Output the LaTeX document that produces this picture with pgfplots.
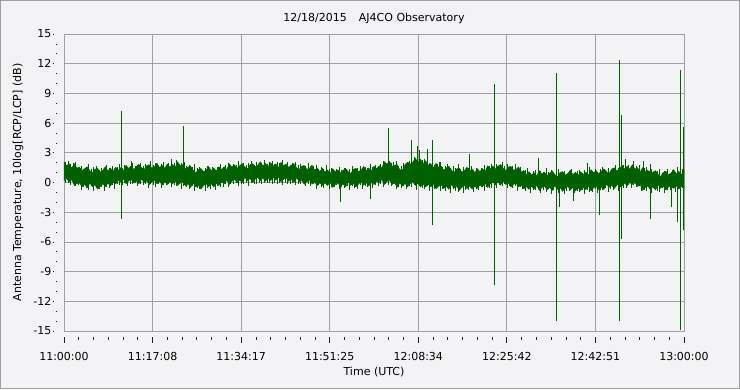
\documentclass[border=0pt]{standalone}
\usepackage{pgfplots}
\pgfplotsset{compat=1.18}
\usepackage{fontspec}
\setmainfont{DejaVu Sans}
\definecolor{bgc}{RGB}{243,243,245}
\definecolor{gridc}{RGB}{160,160,160}
\definecolor{sig}{RGB}{0,96,0}
\definecolor{tickc}{RGB}{20,30,70}
\begin{document}
\begin{tikzpicture}
\fill[bgc] (-64pt,-58pt) rectangle (676pt,331pt);
\draw[gray!75, line width=1.2pt] (-63.4pt,-57.4pt) rectangle (675.4pt,330.4pt);
\useasboundingbox (-64pt,-58pt) rectangle (676pt,331pt);
\begin{axis}[
  scale only axis, width=620pt, height=297pt,
  xmin=0, xmax=120, ymin=-15, ymax=15,
  xtick={0,17.142857,34.285714,51.428571,68.571429,85.714286,102.857143,120},
  xticklabels={11:00:00,11:17:08,11:34:17,11:51:25,12:08:34,12:25:42,12:42:51,13:00:00},
  minor x tick num=5,
  ytick={-15,-12,-9,-6,-3,0,3,6,9,12,15},
  minor y tick num=2,
  tick pos=left,
  grid=major,
  major grid style={gridc, line width=0.8pt},
  axis line style={gridc, line width=0.8pt},
  tick align=outside,
  major tick length=6pt, minor tick length=3pt,
  x tick style={tickc, line width=0.8pt, yshift=-5.5pt},
  y tick style={tickc, line width=0.8pt, xshift=-5pt, dash pattern=on 1.5pt off 12pt},
  font=\fontsize{11}{13}\selectfont,
  /pgf/number format/assume math mode=true,
  xticklabel style={anchor=base, yshift=-23pt},
  yticklabel style={anchor=east, xshift=-3pt},
  title={12/18/2015\hspace{1.1em}AJ4CO Observatory},
  title style={at={(axis description cs:0.5,1)}, anchor=center, yshift=10pt},
  xlabel={Time (UTC)},
  xlabel style={at={(axis description cs:0.5,-0.138)}, anchor=center},
  ylabel={Antenna Temperature, 10log[RCP/LCP] (dB)},
  ylabel style={at={(axis description cs:-0.074,0.5)}, anchor=center},
  spk/.style={draw=sig, line width=1pt},
]
\addplot[draw=sig, fill=sig, line width=0.4pt] coordinates {
(0,2.1)(0.5,1.7)(1,1.9)(1.5,1.45)(2,1.9)(2.5,1.45)(3,1.55)(3.5,1.2)(4,1.4)(4.5,1.58)(5,1.2)(5.5,1.0)(6,1.35)(6.5,1.43)(7,1.05)(7.5,1.22)(8,1.6)(8.5,1.17)(9,1.45)(9.5,1.12)(10,1.55)(10.5,1.23)(11,1.5)(11.5,1.17)(12,1.75)(12.5,1.42)(13,1.65)(13.5,1.32)(14,1.6)(14.5,1.83)(15,1.5)(15.5,1.3)(16,1.7)(16.5,1.8)(17,1.45)(17.5,1.6)(18,1.95)(18.5,1.5)(19,1.75)(19.5,1.43)(20,1.87)(20.5,1.55)(21,1.83)(21.5,1.52)(22,2.1)(22.5,1.67)(23,1.8)(23.5,1.37)(24,1.55)(24.5,1.67)(25,1.25)(25.5,0.97)(26,1.3)(26.5,1.42)(27,1.08)(27.5,1.25)(28,1.62)(28.5,1.18)(29,1.45)(29.5,1.15)(30,1.6)(30.5,1.3)(31,1.6)(31.5,1.3)(32,1.9)(32.5,1.56)(33,1.78)(33.5,1.44)(34,1.7)(34.5,1.91)(35,1.58)(35.5,1.39)(36,1.8)(36.5,1.91)(37,1.58)(37.5,1.74)(38,2.1)(38.5,1.66)(39,1.93)(39.5,1.59)(40,2.0)(40.5,1.65)(41,1.88)(41.5,1.52)(42,2.05)(42.5,1.69)(43,1.88)(43.5,1.51)(44,1.75)(44.5,1.91)(45,1.53)(45.5,1.29)(46,1.65)(46.5,1.71)(47,1.33)(47.5,1.44)(48,1.75)(48.5,1.26)(49,1.48)(49.5,1.09)(50,1.45)(50.5,1.06)(51,1.28)(51.5,0.89)(52,1.4)(52.5,1.07)(53,1.28)(53.5,0.95)(54,1.22)(54.5,1.43)(55,1.1)(55.5,0.91)(56,1.33)(56.5,1.44)(57,1.1)(57.5,1.26)(58,1.63)(58.5,1.19)(59,1.45)(59.5,1.18)(60,1.65)(60.5,1.38)(61,1.7)(61.5,1.45)(62,2.1)(62.5,1.85)(63,2.15)(63.5,1.65)(64,1.75)(64.5,1.8)(65,1.3)(65.5,1.25)(66,1.8)(66.5,2.05)(67,1.85)(67.5,2.05)(68,2.45)(68.5,2.05)(69,2.35)(69.5,1.9)(70,2.2)(70.5,1.75)(71,1.9)(71.5,1.48)(72,1.95)(72.5,1.53)(73,1.65)(73.5,1.26)(74,1.48)(74.5,1.64)(75,1.25)(75.5,1.01)(76,1.38)(76.5,1.44)(77,1.05)(77.5,1.2)(78,1.55)(78.5,1.1)(79,1.35)(79.5,1.0)(80,1.4)(80.5,1.1)(81,1.4)(81.5,1.1)(82,1.7)(82.5,1.4)(83,1.65)(83.5,1.35)(84,1.65)(84.5,1.82)(85,1.43)(85.5,1.2)(86,1.57)(86.5,1.63)(87,1.25)(87.5,1.32)(88,1.58)(88.5,1.05)(89,1.22)(89.5,0.78)(90,1.1)(90.5,0.75)(91,1.0)(91.5,0.65)(92,1.2)(92.5,0.85)(93,1.05)(93.5,0.7)(94,0.95)(94.5,1.15)(95,0.8)(95.5,0.6)(96,1.0)(96.5,1.1)(97,0.75)(97.5,0.9)(98,1.25)(98.5,0.8)(99,1.05)(99.5,0.7)(100,1.1)(100.5,0.78)(101,1.05)(101.5,0.73)(102,1.3)(102.5,0.98)(103,1.2)(103.5,0.88)(104,1.15)(104.5,1.39)(105,1.08)(105.5,0.91)(106,1.35)(106.5,1.49)(107,1.18)(107.5,1.36)(108,1.75)(108.5,1.35)(109,1.65)(109.5,1.35)(110,1.8)(110.5,1.35)(111,1.5)(111.5,1.05)(112,1.5)(112.5,1.1)(113,1.25)(113.5,0.85)(114,1.05)(114.5,1.2)(115,0.8)(115.5,0.61)(116,1.02)(116.5,1.13)(117,0.79)(117.5,0.95)(118,1.31)(118.5,0.87)(119,1.13)(119.5,0.79)(120,1.2)
(120,-0.6)(119.5,-0.36)(119,-0.67)(118.5,-0.33)(118,-0.59)(117.5,-0.25)(117,-0.46)(116.5,-0.77)(116,-0.38)(115.5,-0.59)(115,-0.25)(114.5,-0.75)(114,-0.45)(113.5,-0.7)(113,-0.35)(112.5,-0.5)(112,-0.8)(111.5,-0.18)(111,-0.4)(110.5,-0.03)(110,-0.2)(109.5,0.0)(109,-0.35)(108.5,-0.05)(108,-0.35)(107.5,-0.04)(107,-0.28)(106.5,-0.61)(106,-0.25)(105.5,-0.49)(105,-0.18)(104.5,-0.71)(104,-0.45)(103.5,-0.71)(103,-0.38)(102.5,-0.54)(102,-0.85)(101.5,-0.36)(101,-0.73)(100.5,-0.49)(100,-0.8)(99.5,-0.55)(99,-0.85)(98.5,-0.5)(98,-0.75)(97.5,-0.4)(97,-0.6)(96.5,-0.9)(96,-0.5)(95.5,-0.69)(95,-0.33)(94.5,-0.81)(94,-0.5)(93.5,-0.74)(93,-0.38)(92.5,-0.51)(92,-0.8)(91.5,-0.3)(91,-0.65)(90.5,-0.4)(90,-0.7)(89.5,-0.4)(89,-0.65)(88.5,-0.25)(88,-0.45)(87.5,-0.05)(87,-0.2)(86.5,-0.47)(86,-0.03)(85.5,-0.2)(85,0.18)(84.5,-0.28)(84,0.05)(83.5,-0.25)(83,0.05)(82.5,-0.15)(82,-0.5)(81.5,-0.05)(81,-0.45)(80.5,-0.25)(80,-0.6)(79.5,-0.37)(79,-0.68)(78.5,-0.35)(78,-0.62)(77.5,-0.28)(77,-0.5)(76.5,-0.79)(76,-0.38)(75.5,-0.56)(75,-0.2)(74.5,-0.69)(74,-0.38)(73.5,-0.61)(73,-0.25)(72.5,-0.38)(72,-0.65)(71.5,-0.13)(71,-0.45)(70.5,-0.18)(70,-0.45)(69.5,-0.18)(69,-0.45)(68.5,-0.08)(68,-0.3)(67.5,0.07)(67,-0.1)(66.5,-0.45)(66,-0.1)(65.5,-0.35)(65,-0.05)(64.5,-0.45)(64,-0.05)(63.5,-0.2)(63,0.25)(62.5,0.1)(62,-0.2)(61.5,0.3)(61,-0.05)(60.5,0.15)(60,-0.2)(59.5,0.0)(59,-0.35)(58.5,-0.01)(58,-0.28)(57.5,0.06)(57,-0.15)(56.5,-0.46)(56,-0.08)(55.5,-0.29)(55,0.05)(54.5,-0.45)(54,-0.15)(53.5,-0.4)(53,-0.05)(52.5,-0.2)(52,-0.5)(51.5,0.02)(51,-0.3)(50.5,-0.03)(50,-0.3)(49.5,-0.03)(49,-0.3)(48.5,0.07)(48,-0.15)(47.5,0.24)(47,0.07)(46.5,-0.19)(46,0.25)(45.5,0.09)(45,0.48)(44.5,0.01)(44,0.35)(43.5,0.11)(43,0.48)(42.5,0.34)(42,0.05)(41.5,0.56)(41,0.23)(40.5,0.49)(40,0.2)(39.5,0.44)(39,0.13)(38.5,0.46)(38,0.2)(37.5,0.54)(37,0.33)(36.5,0.01)(36,0.4)(35.5,0.18)(35,0.5)(34.5,-0.02)(34,0.25)(33.5,-0.03)(33,0.3)(32.5,0.12)(32,-0.2)(31.5,0.25)(31,-0.15)(30.5,0.05)(30,-0.3)(29.5,-0.1)(29,-0.45)(28.5,-0.13)(28,-0.42)(27.5,-0.1)(27,-0.33)(26.5,-0.67)(26,-0.3)(25.5,-0.45)(25,-0.05)(24.5,-0.5)(24,-0.15)(23.5,-0.35)(23,0.05)(22.5,-0.05)(22,-0.3)(21.5,0.2)(21,-0.15)(20.5,0.1)(20,-0.2)(19.5,0.05)(19,-0.25)(18.5,0.11)(18,-0.13)(17.5,0.24)(17,0.05)(16.5,-0.24)(16,0.17)(15.5,-0.01)(15,0.35)(14.5,-0.14)(14,0.17)(13.5,-0.06)(13,0.3)(12.5,0.16)(12,-0.13)(11.5,0.39)(11,0.05)(10.5,0.22)(10,-0.15)(9.5,0.02)(9,-0.35)(8.5,-0.08)(8,-0.4)(7.5,-0.13)(7,-0.4)(6.5,-0.68)(6,-0.25)(5.5,-0.43)(5,-0.05)(4.5,-0.53)(4,-0.2)(3.5,-0.43)(3,-0.05)(2.5,-0.1)(2,-0.3)(1.5,0.3)(1,0.05)(0.5,0.4)(0,0.2)
};
% fine noise hairs above the band
\addplot[ycomb, draw=sig, line width=0.5pt] coordinates {
(0.25,2.05)(0.75,2.2)(1.25,1.85)(1.75,1.95)(2.25,2.05)(2.75,1.6)(3.25,1.7)(3.75,1.38)(4.25,1.55)(4.75,1.83)(5.25,1.4)(5.75,1.53)(6.25,1.65)(6.75,1.28)(7.25,1.5)(7.75,1.37)(8.25,1.8)(8.75,1.42)(9.25,1.65)(9.75,1.37)(10.25,1.6)(10.75,1.83)(11.25,1.5)(11.75,1.72)(12.25,1.45)(12.75,1.67)(13.25,2.0)(13.75,1.62)(14.25,1.8)(14.75,1.98)(15.25,1.65)(15.75,1.9)(16.25,1.75)(16.75,2.15)(17.25,1.75)(17.75,1.95)(18.25,1.65)(18.75,1.85)(19.25,2.05)(19.75,1.73)(20.25,1.97)(20.75,1.7)(21.25,1.93)(21.75,2.27)(22.25,1.9)(22.75,1.97)(23.25,2.05)(23.75,1.62)(24.25,1.8)(24.75,1.57)(25.25,1.9)(25.75,1.42)(26.25,1.55)(26.75,1.27)(27.25,1.48)(27.75,1.7)(28.25,1.37)(28.75,1.58)(29.25,1.3)(29.75,1.55)(30.25,1.9)(30.75,1.55)(31.25,1.75)(31.75,1.95)(32.25,1.65)(32.75,1.91)(33.25,1.78)(33.75,2.19)(34.25,1.8)(34.75,2.01)(35.25,1.73)(35.75,1.94)(36.25,2.15)(36.75,1.81)(37.25,2.03)(37.75,1.74)(38.25,1.95)(38.75,2.26)(39.25,1.88)(39.75,2.04)(40.25,2.2)(40.75,1.85)(41.25,2.08)(41.75,1.92)(42.25,2.3)(42.75,1.89)(43.25,2.08)(43.75,1.76)(44.25,1.95)(44.75,2.11)(45.25,1.73)(45.75,1.89)(46.25,1.55)(46.75,1.71)(47.25,1.98)(47.75,1.54)(48.25,1.65)(48.75,1.76)(49.25,1.38)(49.75,1.59)(50.25,1.4)(50.75,1.76)(51.25,1.33)(51.75,1.49)(52.25,1.15)(52.75,1.37)(53.25,1.58)(53.75,1.25)(54.25,1.47)(54.75,1.18)(55.25,1.4)(55.75,1.71)(56.25,1.33)(56.75,1.49)(57.25,1.65)(57.75,1.31)(58.25,1.58)(58.75,1.44)(59.25,1.85)(59.75,1.53)(60.25,1.8)(60.75,1.58)(61.25,1.85)(61.75,2.15)(62.25,1.9)(62.75,2.2)(63.25,2.0)(63.75,2.05)(64.25,2.2)(64.75,1.65)(65.25,1.65)(65.75,1.95)(66.25,1.75)(66.75,2.15)(67.25,2.15)(67.75,2.6)(68.25,2.25)(68.75,2.5)(69.25,2.25)(69.75,2.35)(70.25,2.45)(70.75,2.0)(71.25,2.1)(71.75,1.73)(72.25,1.85)(72.75,2.08)(73.25,1.6)(73.75,1.71)(74.25,1.83)(74.75,1.44)(75.25,1.65)(75.75,1.46)(76.25,1.83)(76.75,1.39)(77.25,1.55)(77.75,1.25)(78.25,1.45)(78.75,1.65)(79.25,1.3)(79.75,1.5)(80.25,1.2)(80.75,1.45)(81.25,1.8)(81.75,1.45)(82.25,1.65)(82.75,1.85)(83.25,1.55)(83.75,1.85)(84.25,1.75)(84.75,2.12)(85.25,1.68)(85.75,1.85)(86.25,1.52)(86.75,1.68)(87.25,1.85)(87.75,1.42)(88.25,1.53)(88.75,1.15)(89.25,1.27)(89.75,1.48)(90.25,1.0)(90.75,1.15)(91.25,1.3)(91.75,0.95)(92.25,1.2)(92.75,1.05)(93.25,1.45)(93.75,1.05)(94.25,1.25)(94.75,0.95)(95.25,1.15)(95.75,1.35)(96.25,1.0)(96.75,1.2)(97.25,0.9)(97.75,1.1)(98.25,1.4)(98.75,1.0)(99.25,1.15)(99.75,1.3)(100.25,0.95)(100.75,1.23)(101.25,1.1)(101.75,1.53)(102.25,1.15)(102.75,1.38)(103.25,1.1)(103.75,1.33)(104.25,1.55)(104.75,1.24)(105.25,1.48)(105.75,1.21)(106.25,1.45)(106.75,1.79)(107.25,1.43)(107.75,1.61)(108.25,1.8)(108.75,1.5)(109.25,1.8)(109.75,1.7)(110.25,2.15)(110.75,1.65)(111.25,1.75)(111.75,1.35)(112.25,1.45)(112.75,1.6)(113.25,1.2)(113.75,1.35)(114.25,1.0)(114.75,1.15)(115.25,1.4)(115.75,1.01)(116.25,1.17)(116.75,1.33)(117.25,0.99)(117.75,1.25)(118.25,1.11)(118.75,1.52)(119.25,1.13)(119.75,1.34)
};
% fine noise hairs below the band
\addplot[ycomb, draw=sig, line width=0.5pt] coordinates {
(0.25,0.1)(0.75,0.2)(1.25,-0.3)(1.75,-0.15)(2.25,-0.4)(2.75,-0.25)(3.25,-0.8)(3.75,-0.43)(4.25,-0.6)(4.75,-0.73)(5.25,-0.4)(5.75,-0.88)(6.25,-0.6)(6.75,-0.68)(7.25,-0.5)(7.75,-0.83)(8.25,-0.5)(8.75,-0.58)(9.25,-0.25)(9.75,-0.63)(10.25,-0.15)(10.75,-0.23)(11.25,-0.25)(11.75,0.09)(12.25,-0.38)(12.75,-0.09)(13.25,-0.15)(13.75,0.04)(14.25,-0.38)(14.75,-0.14)(15.25,-0.3)(15.75,-0.06)(16.25,-0.53)(16.75,-0.14)(17.25,-0.3)(17.75,-0.41)(18.25,-0.08)(18.75,-0.54)(19.25,-0.25)(19.75,-0.3)(20.25,-0.1)(20.75,-0.5)(21.25,-0.25)(21.75,-0.4)(22.25,-0.15)(22.75,-0.65)(23.25,-0.3)(23.75,-0.5)(24.25,-0.65)(24.75,-0.35)(25.25,-0.85)(25.75,-0.6)(26.25,-0.7)(26.75,-0.47)(27.25,-0.83)(27.75,-0.55)(28.25,-0.67)(28.75,-0.38)(29.25,-0.8)(29.75,-0.35)(30.25,-0.45)(30.75,-0.5)(31.25,-0.1)(31.75,-0.5)(32.25,-0.15)(32.75,-0.18)(33.25,0.05)(33.75,-0.33)(34.25,-0.05)(34.75,-0.17)(35.25,0.1)(35.75,-0.32)(36.25,0.1)(36.75,-0.04)(37.25,-0.12)(37.75,0.24)(38.25,-0.2)(38.75,0.11)(39.25,0.08)(39.75,0.29)(40.25,-0.1)(40.75,0.14)(41.25,-0.02)(41.75,0.21)(42.25,-0.25)(42.75,0.14)(43.25,-0.02)(43.75,-0.14)(44.25,0.2)(44.75,-0.29)(45.25,-0.02)(45.75,-0.11)(46.25,0.05)(46.75,-0.39)(47.25,-0.18)(47.75,-0.36)(48.25,-0.15)(48.75,-0.63)(49.25,-0.25)(49.75,-0.43)(50.25,-0.55)(50.75,-0.23)(51.25,-0.7)(51.75,-0.43)(52.25,-0.5)(52.75,-0.3)(53.25,-0.7)(53.75,-0.45)(54.25,-0.6)(54.75,-0.35)(55.25,-0.8)(55.75,-0.39)(56.25,-0.53)(56.75,-0.61)(57.25,-0.25)(57.75,-0.69)(58.25,-0.38)(58.75,-0.41)(59.25,-0.2)(59.75,-0.55)(60.25,-0.25)(60.75,-0.35)(61.25,-0.05)(61.75,-0.5)(62.25,-0.1)(62.75,-0.25)(63.25,-0.35)(63.75,-0.1)(64.25,-0.65)(64.75,-0.45)(65.25,-0.6)(65.75,-0.35)(66.25,-0.7)(66.75,-0.4)(67.25,-0.5)(67.75,-0.28)(68.25,-0.75)(68.75,-0.38)(69.25,-0.55)(69.75,-0.68)(70.25,-0.35)(70.75,-0.83)(71.25,-0.55)(71.75,-0.63)(72.25,-0.45)(72.75,-0.88)(73.25,-0.65)(73.75,-0.81)(74.25,-0.58)(74.75,-1.04)(75.25,-0.65)(75.75,-0.81)(76.25,-0.93)(76.75,-0.59)(77.25,-1.05)(77.75,-0.73)(78.25,-0.77)(78.75,-0.55)(79.25,-0.93)(79.75,-0.67)(80.25,-0.8)(80.75,-0.5)(81.25,-0.9)(81.75,-0.45)(82.25,-0.55)(82.75,-0.6)(83.25,-0.2)(83.75,-0.6)(84.25,-0.25)(84.75,-0.33)(85.25,-0.17)(85.75,-0.6)(86.25,-0.38)(86.75,-0.57)(87.25,-0.35)(87.75,-0.85)(88.25,-0.5)(88.75,-0.7)(89.25,-0.85)(89.75,-0.55)(90.25,-1.05)(90.75,-0.75)(91.25,-0.8)(91.75,-0.6)(92.25,-1.01)(92.75,-0.76)(93.25,-0.93)(93.75,-0.69)(94.25,-1.15)(94.75,-0.76)(95.25,-0.93)(95.75,-1.04)(96.25,-0.7)(96.75,-1.15)(97.25,-0.85)(97.75,-0.9)(98.25,-0.7)(98.75,-1.1)(99.25,-0.85)(99.75,-1.0)(100.25,-0.75)(100.75,-1.19)(101.25,-0.78)(101.75,-0.91)(102.25,-1.0)(102.75,-0.64)(103.25,-1.08)(103.75,-0.76)(104.25,-0.8)(104.75,-0.56)(105.25,-0.93)(105.75,-0.64)(106.25,-0.75)(106.75,-0.46)(107.25,-0.88)(107.75,-0.44)(108.25,-0.55)(108.75,-0.6)(109.25,-0.2)(109.75,-0.6)(110.25,-0.25)(110.75,-0.43)(111.25,-0.35)(111.75,-0.88)(112.25,-0.75)(112.75,-0.9)(113.25,-0.65)(113.75,-1.1)(114.25,-0.7)(114.75,-0.85)(115.25,-0.95)(115.75,-0.59)(116.25,-1.03)(116.75,-0.72)(117.25,-0.76)(117.75,-0.55)(118.25,-0.94)(118.75,-0.68)(119.25,-0.82)(119.75,-0.56)
};
\addplot[spk] coordinates {(11.1,-3.7)(11.1,7.2)};
\addplot[spk] coordinates {(23.1,-0.4)(23.1,5.7)};
\addplot[spk] coordinates {(13.0,0.5)(13.0,2.2)};
\addplot[spk] coordinates {(20.8,0.5)(20.8,2.4)};
\addplot[spk] coordinates {(53.5,-2.0)(53.5,0.5)};
\addplot[spk] coordinates {(59.3,-1.7)(59.3,0.5)};
\addplot[spk] coordinates {(62.8,-0.3)(62.8,5.5)};
\addplot[spk] coordinates {(67.2,0.5)(67.2,4.3)};
\addplot[spk] coordinates {(68.4,0.5)(68.4,3.7)};
\addplot[spk] coordinates {(68.9,0.5)(68.9,3.3)};
\addplot[spk] coordinates {(70.3,0.5)(70.3,3.4)};
\addplot[spk] coordinates {(71.3,-4.3)(71.3,4.3)};
\addplot[spk] coordinates {(72.6,0.5)(72.6,2.1)};
\addplot[spk] coordinates {(78.4,0.0)(78.4,2.9)};
\addplot[spk] coordinates {(83.3,-10.4)(83.3,10.0)};
\addplot[spk] coordinates {(91.8,0.0)(91.8,2.5)};
\addplot[spk] coordinates {(95.3,-14.0)(95.3,11.1)};
\addplot[spk] coordinates {(95.9,-2.5)(95.9,0.0)};
\addplot[spk] coordinates {(98.6,-1.9)(98.6,0.0)};
\addplot[spk] coordinates {(101.3,0.0)(101.3,2.0)};
\addplot[spk] coordinates {(103.6,-3.3)(103.6,0.0)};
\addplot[spk] coordinates {(107.5,-14.0)(107.5,12.4)};
\addplot[spk] coordinates {(107.9,-5.7)(107.9,6.8)};
\addplot[spk] coordinates {(108.6,0.0)(108.6,2.4)};
\addplot[spk] coordinates {(112.1,0.0)(112.1,2.2)};
\addplot[spk] coordinates {(113.5,-3.7)(113.5,1.9)};
\addplot[spk] coordinates {(117.5,-2.5)(117.5,0.0)};
\addplot[spk] coordinates {(118.7,-4.0)(118.7,0.0)};
\addplot[spk] coordinates {(119.3,-14.9)(119.3,11.4)};
\addplot[spk] coordinates {(119.85,-4.8)(119.85,5.6)};
\end{axis}
\end{tikzpicture}
\end{document}
